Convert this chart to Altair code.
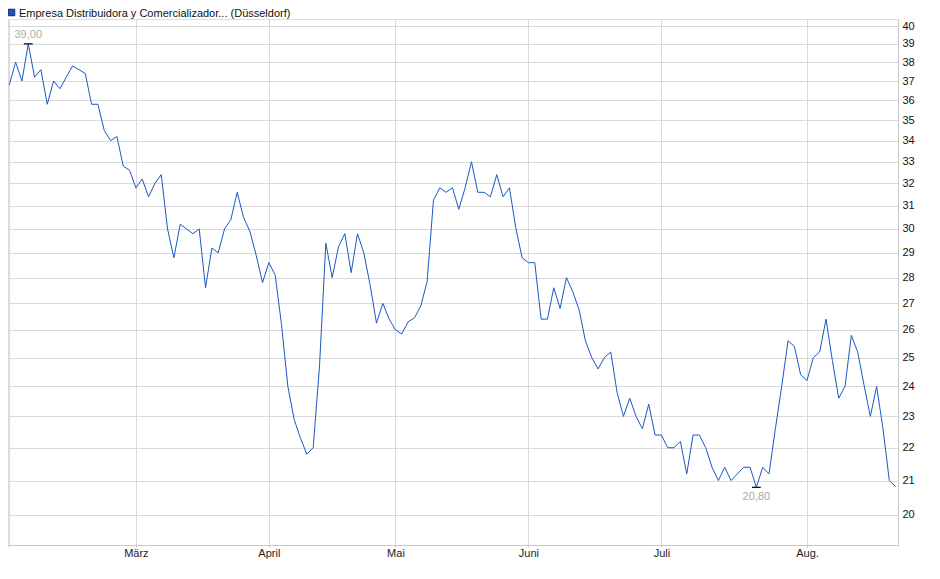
import altair as alt
import pandas as pd

# Daily closing prices (trading days, Feb .. Aug)
PRICES = [
    36.8, 38.0, 37.0, 39.0, 37.2, 37.6, 35.8, 37.0, 36.6, 37.2,
    37.8, 37.6, 37.4, 35.8, 35.8, 34.5, 34.0, 34.2, 32.8, 32.6,
    31.8, 32.2, 31.4, 32.0, 32.4, 30.0, 28.8, 30.2, 30.0, 29.8,
    30.0, 27.6, 29.2, 29.0, 30.0, 30.4, 31.6, 30.5, 29.9, 28.9,
    27.8, 28.6, 28.1, 26.2, 24.0, 22.9, 22.3, 21.8, 22.0, 24.7,
    29.4, 28.0, 29.25, 29.8, 28.2, 29.8, 29.0, 27.7, 26.25, 27.0,
    26.4, 26.0, 25.85, 26.3, 26.45, 26.9, 27.85, 31.25, 31.8, 31.6,
    31.8, 30.85, 31.8, 33.0, 31.6, 31.6, 31.4, 32.4, 31.4, 31.8,
    30.05, 28.8, 28.6, 28.6, 26.4, 26.4, 27.6, 26.8, 28.0, 27.45,
    26.75, 25.6, 25.0, 24.6, 25.0, 25.2, 23.8, 23.0, 23.6, 23.0,
    22.6, 23.4, 22.4, 22.4, 22.0, 22.0, 22.2, 21.2, 22.4, 22.4,
    22.0, 21.4, 21.0, 21.4, 21.0, 21.2, 21.4, 21.4, 20.8, 21.4,
    21.2, 22.6, 24.0, 25.6, 25.4, 24.4, 24.2, 25.0, 25.2, 26.4,
    24.9, 23.6, 24.0, 25.8, 25.2, 24.05, 23.0, 24.0, 22.6, 21.0,
    20.82,
]

# Month starts as trading-day index, with labels
MONTH_INDEX = [0, 20, 41, 61, 82, 103, 126]
MONTH_LABELS = ["", "März", "April", "Mai", "Juni", "Juli", "Aug."]

Y_TICKS = list(range(20, 41))
LEGEND_LABEL = "Empresa Distribuidora y Comercializador... (Düsseldorf)"

FONT = "Liberation Sans, Arial, sans-serif"
LINE_COLOR = "#1a58c4"
GRID = "#dadada"

df = pd.DataFrame({"i": list(range(len(PRICES))), "v": PRICES})
imax = int(df["v"].idxmax())
imin = int(df["v"].idxmin())
ext = pd.DataFrame({
    "i": [imax, imin],
    "v": [PRICES[imax], PRICES[imin]],
    "kind": ["max", "min"],
})
ext["label"] = ext["v"].map(lambda x: f"{x:.2f}".replace(".", ","))

label_expr = "''"
for idx, lab in zip(reversed(MONTH_INDEX), reversed(MONTH_LABELS)):
    label_expr = f"datum.value == {idx} ? '{lab}' : ({label_expr})"

x_scale = alt.Scale(domain=[-0.2, 140.37], nice=False, zero=False)
y_scale = alt.Scale(type="log", domain=[19.167, 40.40], nice=False, zero=False)

x_axis = alt.Axis(
    values=MONTH_INDEX, labelExpr=label_expr, title=None, grid=True,
    gridColor=GRID, domainColor="#c8c8c8", tickColor="#c8c8c8", tickSize=2,
    labelFontSize=11, labelColor="#222222", labelFont=FONT, labelPadding=0,
    labelFlush=False,
)
y_axis = alt.Axis(
    orient="right", values=Y_TICKS, title=None, grid=True, gridColor=GRID,
    domainColor="#c8c8c8", tickSize=0, labelPadding=4, labelFontSize=11,
    labelColor="#111111", labelFont=FONT, format="d",
)

base = alt.Chart(df)

line = base.mark_line(color=LINE_COLOR, strokeWidth=1).encode(
    x=alt.X("i:Q", scale=x_scale, axis=x_axis),
    y=alt.Y("v:Q", scale=y_scale, axis=y_axis),
)

markers = alt.Chart(ext).transform_calculate(
    x1="datum.i - 0.7", x2b="datum.i + 0.7"
).mark_rule(color="#000000", strokeWidth=1.2).encode(
    x=alt.X("x1:Q", scale=x_scale, axis=x_axis),
    x2="x2b:Q",
    y=alt.Y("v:Q", scale=y_scale, axis=y_axis),
)

lab_max = alt.Chart(ext).transform_filter("datum.kind == 'max'").mark_text(
    fontSize=11, font=FONT, color="#aaaaaa", dy=-9
).encode(
    x=alt.X("i:Q", scale=x_scale, axis=x_axis),
    y=alt.Y("v:Q", scale=y_scale, axis=y_axis),
    text="label:N",
)
lab_min = alt.Chart(ext).transform_filter("datum.kind == 'min'").mark_text(
    fontSize=11, font=FONT, color="#aaaaaa", dy=10
).encode(
    x=alt.X("i:Q", scale=x_scale, axis=x_axis),
    y=alt.Y("v:Q", scale=y_scale, axis=y_axis),
    text="label:N",
)

leg_df = pd.DataFrame({"label": [LEGEND_LABEL]})
leg_sq = alt.Chart(leg_df).mark_square(
    size=42, fill="#1f52b8", stroke="#0b2a72", strokeWidth=1, opacity=1
).encode(x=alt.value(3.5), y=alt.value(-6.5))
leg_tx = alt.Chart(leg_df).mark_text(
    fontSize=11, font=FONT, color="#111111", align="left", baseline="alphabetic"
).encode(x=alt.value(11), y=alt.value(-2), text="label:N")

chart = alt.layer(line, markers, lab_max, lab_min, leg_sq, leg_tx).properties(
    width=890, height=526,
    autosize=alt.AutoSizeParams(type="none"),
    padding={"left": 0, "top": 11, "right": 30, "bottom": 22},
).configure_view(stroke="#d0d0d0", strokeWidth=1).configure(background="white")

chart.save("out.html", embed_options={"renderer": "svg", "actions": False})
